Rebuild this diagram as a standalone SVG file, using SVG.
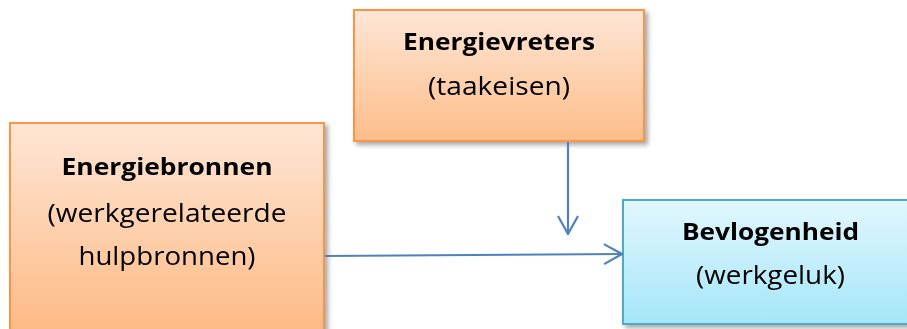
<svg xmlns="http://www.w3.org/2000/svg" width="907" height="329" viewBox="0 0 907 329">
  <defs>
    <linearGradient id="orangeFill" x1="0" y1="0" x2="0" y2="1">
      <stop offset="0" stop-color="#fee6d6"/>
      <stop offset="1" stop-color="#fdbd8a"/>
    </linearGradient>
    <linearGradient id="orangeFillTall" gradientUnits="userSpaceOnUse" x1="0" y1="123" x2="0" y2="329">
      <stop offset="0" stop-color="#fee6d6"/>
      <stop offset="1" stop-color="#fdbb86"/>
    </linearGradient>
    <linearGradient id="blueFill" x1="0" y1="0" x2="0" y2="1">
      <stop offset="0" stop-color="#e2f7fd"/>
      <stop offset="1" stop-color="#a5e6f9"/>
    </linearGradient>
    <filter id="shadow" x="-5%" y="-5%" width="115%" height="120%">
      <feGaussianBlur in="SourceAlpha" stdDeviation="2.5"/>
      <feOffset dx="3" dy="3" result="b"/>
      <feComponentTransfer><feFuncA type="linear" slope="0.35"/></feComponentTransfer>
      <feMerge><feMergeNode/><feMergeNode in="SourceGraphic"/></feMerge>
    </filter>
    <marker id="openArrow" viewBox="0 0 20 24" refX="19" refY="12" markerWidth="20" markerHeight="24" markerUnits="userSpaceOnUse" orient="auto">
      <path d="M1,2 L19,12 L1,22" fill="none" stroke="#4f81bd" stroke-width="2.2"/>
    </marker>
  </defs>
  <style>
    .orange { stroke: #f79646; stroke-width: 2; }
    .blue { stroke: #4bacc6; stroke-width: 2; fill: url(#blueFill); }
    .title { font-family: "Open Sans", "Liberation Sans", sans-serif; font-weight: bold; font-size: 24px; fill: #000; text-anchor: middle; }
    .sub { font-family: "Open Sans", "Liberation Sans", sans-serif; font-size: 25px; fill: #000; text-anchor: middle; }
    .link { fill: none; stroke: #4f81bd; stroke-width: 2.2; marker-end: url(#openArrow); }
  </style>
  <rect width="907" height="329" fill="#ffffff"/>

  <g id="energievreters" filter="url(#shadow)">
    <rect class="orange" x="354" y="10" width="290" height="131" fill="url(#orangeFill)"/>
    <text class="title" x="499" y="50" textLength="192" lengthAdjust="spacingAndGlyphs">Energievreters</text>
    <text class="sub" x="499" y="95" textLength="142" lengthAdjust="spacingAndGlyphs">(taakeisen)</text>
  </g>

  <g id="energiebronnen" filter="url(#shadow)">
    <rect class="orange" x="10" y="123" width="314" height="220" fill="url(#orangeFillTall)"/>
    <text class="title" x="167" y="175" textLength="211" lengthAdjust="spacingAndGlyphs">Energiebronnen</text>
    <text class="sub" x="167" y="222" textLength="239" lengthAdjust="spacingAndGlyphs">(werkgerelateerde</text>
    <text class="sub" x="167" y="265" textLength="177" lengthAdjust="spacingAndGlyphs">hulpbronnen)</text>
  </g>

  <g id="bevlogenheid" filter="url(#shadow)">
    <rect class="blue" x="623" y="200" width="296" height="124"/>
    <text class="title" x="770.5" y="240" textLength="177" lengthAdjust="spacingAndGlyphs">Bevlogenheid</text>
    <text class="sub" x="770.5" y="284" textLength="149" lengthAdjust="spacingAndGlyphs">(werkgeluk)</text>
  </g>

  <g id="connectors">
    <path class="link" d="M568,142 L568,234"/>
    <path class="link" d="M325,256 L622,254"/>
  </g>
</svg>
